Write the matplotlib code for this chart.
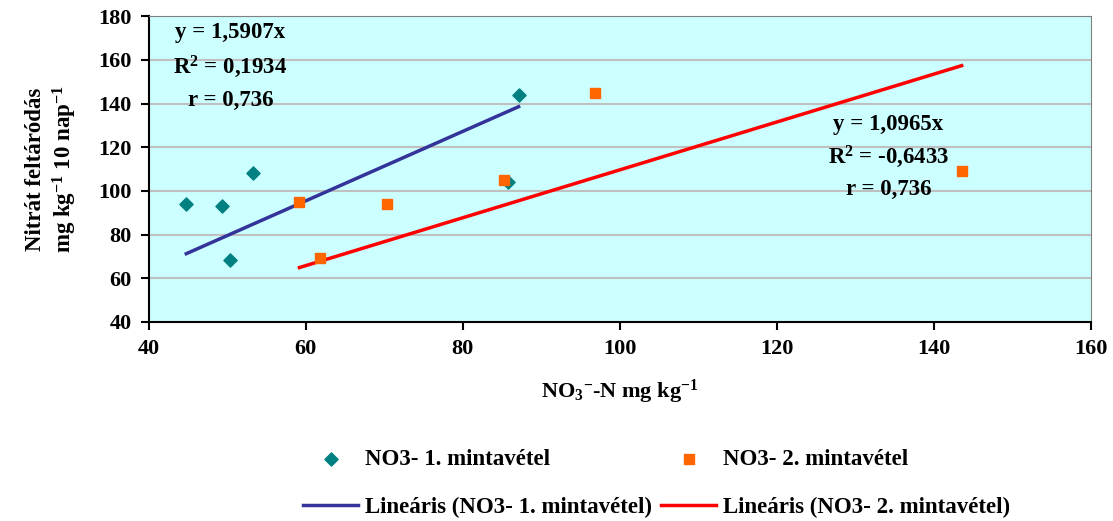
import matplotlib.pyplot as plt

plt.rcParams["font.family"] = "Liberation Serif"
plt.rcParams["font.weight"] = "bold"
plt.rcParams["axes.labelweight"] = "bold"
plt.rcParams["mathtext.fontset"] = "custom"
plt.rcParams["mathtext.rm"] = "Liberation Serif:bold"
plt.rcParams["mathtext.it"] = "Liberation Serif:bold"
plt.rcParams["mathtext.bf"] = "Liberation Serif:bold"

# 1. mintavétel
x1 = [44.8, 49.4, 50.3, 53.3, 85.8, 87.1]
y1 = [94, 93, 68.5, 108, 104, 143.9]
# 2. mintavétel
x2 = [59.2, 61.8, 70.3, 85.3, 96.8, 143.5]
y2 = [95, 69.3, 94, 105, 144.8, 109]

slope1 = 1.5907
slope2 = 1.0965
labels1 = ["y = 1,5907x", "R$^2$ = 0,1934", "r = 0,736"]
labels2 = ["y = 1,0965x", "R$^2$ = -0,6433", "r = 0,736"]

fig = plt.figure(figsize=(11.13, 5.21), dpi=100)
ax = fig.add_axes([0.1335, 0.382, 0.847, 0.587])
ax.set_facecolor("#CCFFFF")

ax.scatter(x1, y1, marker="D", s=45, color="#008080", zorder=3,
           label="NO3- 1. mintavétel")
ax.scatter(x2, y2, marker="s", s=55, color="#FF6600", zorder=3,
           label="NO3- 2. mintavétel")

tx1 = [min(x1), max(x1)]
tx2 = [min(x2), max(x2)]
ax.plot(tx1, [slope1 * v for v in tx1], color="#333399", lw=2.5, zorder=2,
        label="Lineáris (NO3- 1. mintavétel)")
ax.plot(tx2, [slope2 * v for v in tx2], color="#FF0000", lw=2.5, zorder=2,
        label="Lineáris (NO3- 2. mintavétel)")

for i, t in enumerate(labels1):
    ax.text(50.4, 172.5 - i * 15.5, t, ha="center", va="center", fontsize=16.5)
for i, t in enumerate(labels2):
    ax.text(134.2, 130.5 - i * 15.0, t, ha="center", va="center", fontsize=16.5)

ax.set_xlim(40, 160)
ax.set_ylim(40, 180)
ax.set_xticks(range(40, 161, 20))
ax.set_yticks(range(40, 181, 20))
ax.yaxis.grid(True, color="#C0C0C0", lw=1.5)
ax.set_axisbelow(True)
ax.tick_params(labelsize=16, direction="out", length=6, width=1.5, pad=6)
for lbl in ax.get_xticklabels() + ax.get_yticklabels():
    lbl.set_fontweight("bold")
for s in ["left", "bottom"]:
    ax.spines[s].set_linewidth(1.5)
for s in ["top", "right"]:
    ax.spines[s].set_color("#808080")

ax.set_xlabel("NO$_3$$^{-}$-N mg kg$^{-1}$", fontsize=16, labelpad=14)
ax.set_ylabel("Nitrát feltáródás\nmg kg$^{-1}$ 10 nap$^{-1}$", fontsize=16.5,
              labelpad=14, linespacing=1.25)

h, l = ax.get_legend_handles_labels()
order = [0, 2, 1, 3]
fig.legend([h[i] for i in order], [l[i] for i in order], ncol=2,
           loc="center", bbox_to_anchor=(0.59, 0.072), frameon=False,
           fontsize=16.5, columnspacing=0.4, handlelength=2.4,
           handletextpad=0.3, labelspacing=1.15)

fig.savefig("out.png", dpi=100)
